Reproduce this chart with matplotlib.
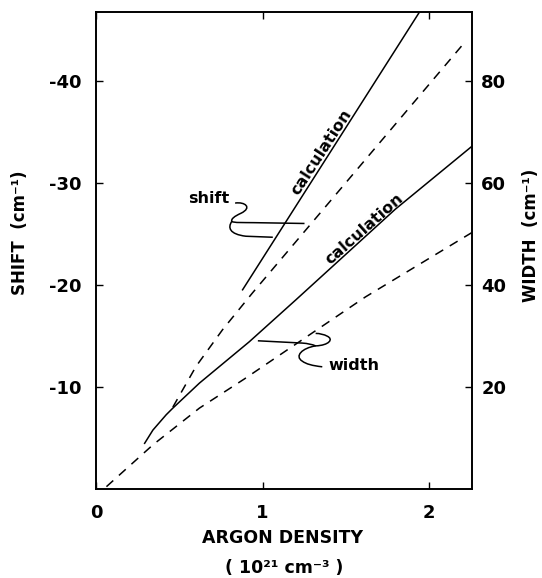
import numpy as np
import matplotlib
matplotlib.use('Agg')
import matplotlib.pyplot as plt
from matplotlib.path import Path
from matplotlib.patches import PathPatch

plt.rcParams['font.family'] = ['DejaVu Sans']
plt.rcParams['font.weight'] = 'bold'
plt.rcParams['axes.unicode_minus'] = False

# argon density (10^21 cm^-3)
shift_calc_x = [0.88, 1.42, 1.96]
shift_calc = [-19.5, -33.3, -47.1]

shift_meas_x = [0.46, 0.60, 0.76, 0.94, 2.22]
shift_meas = [-8.0, -12.0, -15.6, -19.2, -43.8]

width_calc_x = [0.29, 0.34, 0.42, 0.46, 0.62, 0.92, 1.20, 1.80, 2.26]
width_calc = [8.9, 11.5, 14.5, 15.8, 20.7, 28.8, 37.0, 54.8, 67.1]

width_meas_x = [0.06, 0.34, 0.62, 0.89, 1.62, 2.26]
width_meas = [0.4, 8.6, 15.8, 21.5, 37.6, 50.2]

x_ticks = [0, 1, 2]
shift_ticks = [-10, -20, -30, -40]
width_ticks = [20, 40, 60, 80]

fig = plt.figure(figsize=(5.42, 5.78), dpi=100)
ax = fig.add_axes([0.178, 0.1545, 0.692, 0.824])
ax2 = ax.twinx()

ax.set_xlim(0, 2.259)
ax.set_ylim(0, -46.69)
ax2.set_ylim(0, 93.38)

dash = (0, (6, 5))
ax.plot(shift_calc_x, shift_calc, color='black', lw=1.1)
ax.plot(shift_meas_x, shift_meas, color='black', lw=1.1, linestyle=dash)
ax2.plot(width_calc_x, width_calc, color='black', lw=1.1)
ax2.plot(width_meas_x, width_meas, color='black', lw=1.1, linestyle=dash)

# ticks
ax.set_xticks(x_ticks, labels=[str(t) for t in x_ticks])
ax.set_yticks(shift_ticks, labels=[str(t) for t in shift_ticks])
ax2.set_yticks(width_ticks, labels=[str(t) for t in width_ticks])
ax.tick_params(axis='x', direction='in', top=True, length=5, width=1.0,
               pad=11, labelsize=13)
ax.tick_params(axis='y', direction='in', length=5, width=1.0, pad=11,
               labelsize=13)
ax2.tick_params(axis='y', direction='in', length=5, width=1.0, pad=7,
                labelsize=13)
for a in (ax, ax2):
    for s in a.spines.values():
        s.set_linewidth(1.2)

# axis labels
fig.text(283 / 542, 1 - 538 / 578, 'ARGON DENSITY', ha='center', va='center',
         fontsize=12.5, fontweight='bold')
fig.text(284 / 542, 1 - 568 / 578, '( 10²¹ cm⁻³ )', ha='center', va='center',
         fontsize=12.5, fontweight='bold')
fig.text(20 / 542, 1 - 233 / 578, 'SHIFT  (cm⁻¹)', rotation=90, ha='center',
         va='center', fontsize=12, fontweight='bold')
fig.text(531 / 542, 1 - 235 / 578, 'WIDTH  (cm⁻¹)', rotation=90, ha='center',
         va='center', fontsize=12, fontweight='bold')

# curve labels
ax.text(1.354, -33.0, 'calculation', rotation=57, ha='center', va='center',
        fontsize=11.5, fontweight='bold')
ax2.text(1.614, 50.9, 'calculation', rotation=41.5, ha='center', va='center',
         fontsize=11.5, fontweight='bold')
ax.text(0.675, -28.4, 'shift', ha='center', va='center', fontsize=11.5,
        fontweight='bold')
ax2.text(1.548, 24.06, 'width', ha='center', va='center', fontsize=11.5,
         fontweight='bold')

# bracket for "shift"
M, L, C3, C4 = Path.MOVETO, Path.LINETO, Path.CURVE3, Path.CURVE4
verts = [(0.835, -28.0),
         (0.895, -28.15), (0.94, -27.55), (0.87, -27.0),
         (0.83, -26.7), (0.81, -26.45), (0.815, -26.2),
         (0.83, -26.05), (0.88, -26.1), (0.95, -26.08),
         (1.253, -26.0)]
codes = [M, C4, C4, C4, C4, C4, C4, C4, C4, C4, L]
ax.add_patch(PathPatch(Path(verts, codes), fill=False, lw=1.1, ec='black'))
verts = [(0.815, -26.2),
         (0.79, -25.6), (0.80, -24.95), (0.90, -24.75),
         (1.062, -24.65)]
codes = [M, C4, C4, C4, L]
ax.add_patch(PathPatch(Path(verts, codes), fill=False, lw=1.1, ec='black'))

# bracket for "width"
verts = [(0.972, 29.0), (1.24, 28.55),
         (1.29, 28.45), (1.32, 28.0),
         (1.40, 28.1), (1.43, 29.3), (1.39, 29.9),
         (1.36, 30.45), (1.32, 30.45)]
codes = [M, L, C3, C3, C4, C4, C4, C3, C3]
ax2.add_patch(PathPatch(Path(verts, codes), fill=False, lw=1.1, ec='black'))
verts = [(1.32, 28.0),
         (1.24, 27.6), (1.19, 26.0), (1.24, 25.0),
         (1.27, 24.2), (1.36, 23.9)]
codes = [M, C4, C4, C4, C3, C3]
ax2.add_patch(PathPatch(Path(verts, codes), fill=False, lw=1.1, ec='black'))

fig.savefig('out.png', dpi=100)
